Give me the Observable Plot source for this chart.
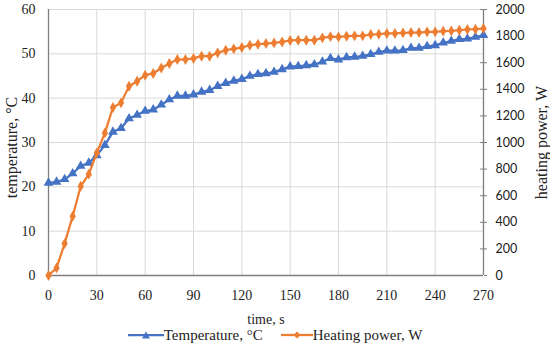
<!DOCTYPE html>
<html>
<head>
<meta charset="utf-8">
<script src="https://cdn.jsdelivr.net/npm/d3@7"></script>
<script src="https://cdn.jsdelivr.net/npm/@observablehq/plot@0.6"></script>
<style>
  html, body { margin: 0; padding: 0; background: #fff; }
  #wrap { position: relative; width: 550px; height: 344px; overflow: hidden; }
  #legend { position: absolute; left: 0; top: 326px; width: 550px; height: 18px;
    display: flex; justify-content: center; align-items: center; gap: 18px;
    font-family: "Liberation Serif", serif; font-size: 15px; color: #222; }
  #legend span.item { display: inline-flex; align-items: center; gap: 0px; }
</style>
</head>
<body>
<div id="wrap">
  <div id="chart"></div>
  <div id="legend"></div>
</div>
<script>
const time = [0,5,10,15,20,25,30,35,40,45,50,55,60,65,70,75,80,85,90,95,100,105,110,115,120,125,130,135,140,145,150,155,160,165,170,175,180,185,190,195,200,205,210,215,220,225,230,235,240,245,250,255,260,265,270];
const temperature = [20.9,21.1,21.7,23.0,24.7,25.4,27.1,29.4,32.4,33.2,35.4,36.2,37.1,37.4,38.5,39.7,40.5,40.5,40.8,41.4,41.8,42.7,43.4,43.9,44.3,45.0,45.4,45.6,45.9,46.5,47.1,47.2,47.4,47.6,48.2,49.0,48.7,49.2,49.3,49.5,49.9,50.4,50.7,50.7,50.8,51.3,51.3,51.7,51.9,52.5,52.9,53.3,53.4,53.8,54.2];
const power = [0,57,240,446,671,762,922,1072,1263,1298,1423,1461,1506,1519,1560,1594,1624,1624,1632,1649,1649,1674,1694,1704,1714,1731,1739,1744,1749,1756,1767,1769,1769,1769,1787,1796,1794,1799,1802,1802,1812,1814,1820,1820,1824,1827,1827,1832,1832,1837,1839,1844,1850,1852,1857];
const xTicks = [0,30,60,90,120,150,180,210,240,270];
const tempTicks = [0,10,20,30,40,50,60];
const powerTicks = [0,200,400,600,800,1000,1200,1400,1600,1800,2000];
const seriesNames = ["Temperature, °C", "Heating power, W"];
const axisTitles = ["temperature, °C", "heating power, W", "time, s"];
const colors = ["#4472C4", "#ED7D31"];

const ratio = 60 / 2000; // right axis max / left axis max
const rows = time.map((t, i) => ({t, temp: temperature[i], pw: power[i] * ratio}));

const serif = "Liberation Serif, serif";
const sans = "Lato, 'Liberation Sans', sans-serif";
const axisColor = "#7f7f7f";

const chart = Plot.plot({
  width: 550,
  height: 326,
  marginLeft: 48,
  marginRight: 67,
  marginTop: 9,
  marginBottom: 51,
  style: {fontFamily: serif, fontSize: "14px", color: "#222", background: "#fff"},
  x: {domain: [0, 270]},
  y: {domain: [0, 60]},
  marks: [
    Plot.gridY(tempTicks, {stroke: "#d9d9d9", strokeOpacity: 1, strokeWidth: 1}),
    Plot.gridX(xTicks, {stroke: "#d9d9d9", strokeOpacity: 1, strokeWidth: 1}),
    Plot.axisX(xTicks, {tickSize: 0, tickPadding: 15, fontFamily: serif, fontSize: 14,
      label: axisTitles[2], labelAnchor: "center", labelArrow: "none", labelOffset: 48}),
    Plot.axisY(tempTicks, {anchor: "left", tickSize: 0, tickPadding: 13, fontFamily: serif, fontSize: 14, label: null}),
    Plot.axisY(powerTicks.map(v => v * ratio), {anchor: "right", tickSize: 3, tickPadding: 9,
      fontFamily: sans, fontSize: 12.5, stroke: axisColor, fill: "#222", label: null,
      tickFormat: v => String(Math.round(v / ratio))}),
    Plot.ruleY(powerTicks.map(v => v * ratio), {x1: 268.2, x2: 270, stroke: axisColor}),
    Plot.ruleX([0], {stroke: axisColor, strokeWidth: 1.3}),
    Plot.ruleX([270], {stroke: axisColor, strokeWidth: 1.3}),
    Plot.ruleY([0], {stroke: axisColor, strokeWidth: 1.3}),
    Plot.line(rows, {x: "t", y: "temp", stroke: colors[0], strokeWidth: 2.25}),
    Plot.dot(rows, {x: "t", y: "temp", symbol: "triangle", r: 3.6, fill: colors[0], stroke: "none"}),
    Plot.line(rows, {x: "t", y: "pw", stroke: colors[1], strokeWidth: 2.25}),
    Plot.dot(rows, {x: "t", y: "pw", symbol: "diamond", r: 3.3, fill: colors[1], stroke: "none"}),
    Plot.text([axisTitles[0]], {text: d => d, frameAnchor: "left", textAnchor: "middle", dx: -37, dy: 5, rotate: -90,
      fontFamily: serif, fontSize: 16, fill: "#222"}),
    Plot.text([axisTitles[1]], {text: d => d, frameAnchor: "right", textAnchor: "middle", dx: 58, dy: 0, rotate: -90,
      fontFamily: serif, fontSize: 16, fill: "#222"})
  ]
});
document.getElementById("chart").appendChild(chart);

// legend
const leg = document.getElementById("legend");
const symbols = [
  '<svg width="36" height="10"><line x1="0" y1="5" x2="36" y2="5" stroke="#4472C4" stroke-width="2.25"/><path d="M18,1.5 L22,8.5 L14,8.5 Z" fill="#4472C4"/></svg>',
  '<svg width="32" height="10"><line x1="0" y1="5" x2="32" y2="5" stroke="#ED7D31" stroke-width="2.25"/><path d="M16,1.5 L19.5,5 L16,8.5 L12.5,5 Z" fill="#ED7D31"/></svg>'
];
seriesNames.forEach((name, i) => {
  const s = document.createElement("span");
  s.className = "item";
  s.innerHTML = symbols[i] + "<span></span>";
  s.lastChild.textContent = name;
  leg.appendChild(s);
});
</script>
</body>
</html>
